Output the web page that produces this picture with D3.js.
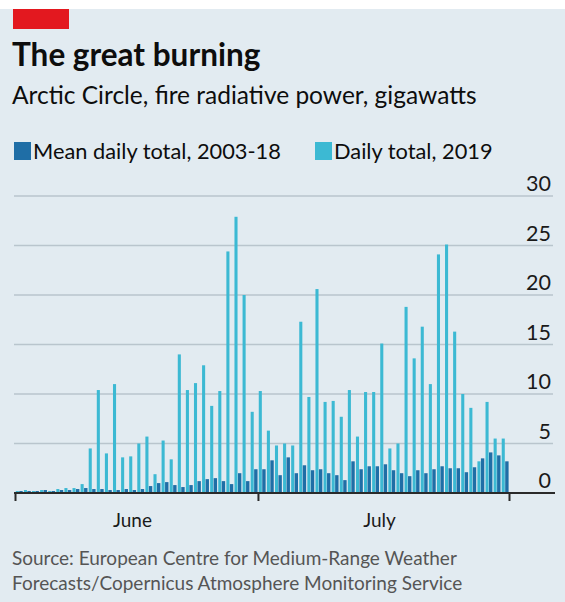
<!DOCTYPE html>
<html>
<head>
<meta charset="utf-8">
<script src="https://cdn.jsdelivr.net/npm/d3@7"></script>
<style>
  html, body { margin: 0; padding: 0; background: #fff; }
  text { font-family: Lato, "Open Sans", sans-serif; }
</style>
</head>
<body>
<div id="chart"></div>
<script>
const svgWidth = 565;
const svgHeight = 602;

// Daily values, 1 June to 31 July
const daily2019 = [
  0.2, 0.3, 0.2, 0.3, 0.2, 0.4, 0.5, 0.5, 0.9, 4.5,
  10.4, 4.0, 11.0, 3.6, 3.7, 5.0, 5.7, 1.9, 5.3, 3.4,
  14.0, 10.4, 11.1, 12.9, 8.8, 10.3, 24.4, 27.9, 20.0, 8.2,
  10.3, 6.3, 4.8, 5.0, 4.8, 17.3, 9.7, 20.6, 9.2, 9.3,
  7.7, 10.4, 5.7, 10.2, 10.2, 15.1, 4.5, 5.0, 18.8, 13.6,
  16.8, 11.0, 24.1, 25.1, 16.3, 10.0, 8.6, 3.2, 9.2, 5.5,
  5.5
];
const meanDaily = [
  0.2, 0.2, 0.2, 0.3, 0.2, 0.3, 0.3, 0.4, 0.5, 0.4,
  0.4, 0.3, 0.3, 0.4, 0.3, 0.4, 0.7, 1.0, 1.1, 0.8,
  0.6, 0.8, 1.2, 1.4, 1.5, 1.2, 0.9, 2.0, 1.2, 2.4,
  2.4, 3.3, 1.8, 3.6, 2.0, 2.8, 2.3, 2.4, 2.0, 1.8,
  1.3, 3.2, 2.4, 2.7, 2.7, 2.9, 2.3, 2.0, 1.7, 2.3,
  2.0, 2.4, 2.7, 2.5, 2.5, 2.1, 2.6, 3.5, 4.1, 3.8,
  3.2
];
const yTicks = [0, 5, 10, 15, 20, 25, 30];
const monthLabels = ["June", "July"];

const colDark = "#1f6ea6";
const colLight = "#3cb9d3";

const startDate = new Date(2019, 5, 1);
const endDate = new Date(2019, 7, 1);
const days = d3.timeDay.range(startDate, endDate);
const barData = days.map((d, i) => ({ date: d, light: daily2019[i], dark: meanDaily[i] }));

const svg = d3.select("#chart")
  .append("svg")
  .attr("width", svgWidth)
  .attr("height", svgHeight);

// background
svg.append("rect").attr("x", 0).attr("y", 0).attr("width", svgWidth).attr("height", svgHeight).attr("fill", "#e2ebf1");
svg.append("rect").attr("x", 0).attr("y", 0).attr("width", svgWidth).attr("height", 9).attr("fill", "#ffffff");
svg.append("rect").attr("x", 13).attr("y", 9).attr("width", 56).attr("height", 20).attr("fill", "#e3181f");

// titles
svg.append("text")
  .attr("x", 12).attr("y", 66)
  .style("font-size", "31.5px").style("font-weight", "bold").attr("fill", "#0d0d0d")
  .text("The great burning");

svg.append("text")
  .attr("x", 12).attr("y", 104)
  .style("font-size", "24.5px").attr("fill", "#0d0d0d")
  .text("Arctic Circle, fire radiative power, gigawatts");

// legend
const legend = [
  { text: "Mean daily total, 2003-18", color: colDark, x: 14 },
  { text: "Daily total, 2019", color: colLight, x: 315 }
];
svg.selectAll(".legendRect")
  .data(legend)
  .enter()
  .append("rect")
  .attr("x", d => d.x).attr("y", 142)
  .attr("width", 17).attr("height", 18)
  .attr("fill", d => d.color);
svg.selectAll(".legendText")
  .data(legend)
  .enter()
  .append("text")
  .attr("x", d => d.x + 19).attr("y", 159)
  .style("font-size", "21.8px").attr("fill", "#0d0d0d")
  .text(d => d.text);

// scales
const xTime = d3.scaleTime().domain([startDate, endDate]).range([15, 509]);
const xBand = d3.scaleBand().domain(days.map(d => +d)).range([15, 509]).paddingInner(0);
const yScale = d3.scaleLinear().domain([0, 30]).range([493, 196]);

// gridlines
svg.selectAll(".grid")
  .data(yTicks.filter(d => d > 0))
  .enter()
  .append("line")
  .attr("x1", 14).attr("x2", 553)
  .attr("y1", d => yScale(d)).attr("y2", d => yScale(d))
  .attr("stroke", "#b9c5cd").attr("stroke-width", 1.5);

svg.selectAll(".yLabel")
  .data(yTicks)
  .enter()
  .append("text")
  .attr("x", 551).attr("y", d => yScale(d) - 5)
  .attr("text-anchor", "end")
  .style("font-size", "21.5px").attr("fill", "#1a1a1a")
  .text(d => d);

// bars
const bw = xBand.bandwidth();
svg.selectAll(".light")
  .data(barData)
  .enter()
  .append("rect")
  .attr("x", d => xBand(+d.date) + bw * 0.1)
  .attr("width", bw * 0.38)
  .attr("y", d => yScale(d.light))
  .attr("height", d => yScale(0) - yScale(d.light))
  .attr("fill", colLight);

svg.selectAll(".dark")
  .data(barData)
  .enter()
  .append("rect")
  .attr("x", d => xBand(+d.date) + bw * 0.53)
  .attr("width", bw * 0.42)
  .attr("y", d => yScale(d.dark))
  .attr("height", d => yScale(0) - yScale(d.dark))
  .attr("fill", colDark);

// x axis
svg.append("line")
  .attr("x1", 14).attr("x2", 555)
  .attr("y1", yScale(0)).attr("y2", yScale(0))
  .attr("stroke", "#2a2a2a").attr("stroke-width", 2);

const xAxis = svg.append("g")
  .attr("transform", `translate(0, ${yScale(0)})`)
  .call(d3.axisBottom(xTime)
    .tickValues([new Date(2019, 5, 1), new Date(2019, 6, 1), new Date(2019, 7, 1)])
    .tickSize(8)
    .tickFormat(""));
xAxis.select(".domain").remove();
xAxis.selectAll(".tick line").attr("stroke", "#2a2a2a").attr("stroke-width", 2);

const monthStarts = [new Date(2019, 5, 1), new Date(2019, 6, 1), new Date(2019, 7, 1)];
svg.selectAll(".month")
  .data(monthLabels)
  .enter()
  .append("text")
  .attr("x", (d, i) => (xTime(monthStarts[i]) + xTime(monthStarts[i + 1])) / 2 - 4)
  .attr("y", 527)
  .attr("text-anchor", "middle")
  .style("font-size", "19px").attr("fill", "#1a1a1a")
  .text(d => d);

// source
svg.append("text")
  .attr("x", 12).attr("y", 565)
  .style("font-size", "19px").attr("fill", "#555")
  .text("Source: European Centre for Medium-Range Weather");
svg.append("text")
  .attr("x", 12).attr("y", 590)
  .style("font-size", "19px").attr("fill", "#555")
  .text("Forecasts/Copernicus Atmosphere Monitoring Service");
</script>
</body>
</html>
